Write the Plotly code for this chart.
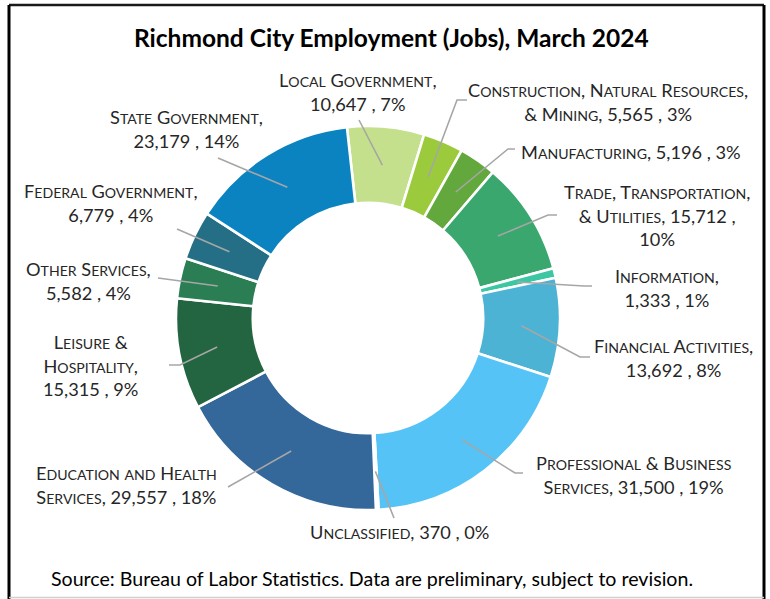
import math
import plotly.graph_objects as go

# ---- data -----------------------------------------------------------------
categories = [
    "Local Government",
    "Construction, Natural Resources,\n& Mining",
    "Manufacturing",
    "Trade, Transportation,\n& Utilities",
    "Information",
    "Financial Activities",
    "Professional & Business\nServices",
    "Unclassified",
    "Education and Health\nServices",
    "Leisure &\nHospitality",
    "Other Services",
    "Federal Government",
    "State Government",
]
jobs = [10647, 5565, 5196, 15712, 1333, 13692, 31500, 370, 29557, 15315, 5582, 6779, 23179]
pct_text = ["7%", "3%", "3%", "10%", "1%", "8%", "19%", "0%", "18%", "9%", "4%", "4%", "14%"]

colors = [
    "#C4E08C", "#9BCB3C", "#62A83C", "#39A76E", "#3DC6A4", "#4DB3D4", "#55C3F6",
    "#FFFFFF", "#34679A", "#236541", "#2B7E53", "#246F86", "#0B83C1",
]

# ---- layout constants (pixels) -------------------------------------------
W, H = 770, 599
CX, CY, R = 368, 318, 192          # donut centre and outer radius
HOLE = 0.6
START_DEG = -6.3                    # start angle of first slice, clockwise from 12 o'clock

FONT = "Lato"
BIG, SMALL = 18.2, 14.1
TXT = "#262626"
LEAD = "#A6A6A6"

# label centre positions, separators, and leader-line anchors (x, y, elbow dx)
label_pos = [
    (358, 92), (608, 102), (631, 152), (657, 215), (667, 288), (673, 358),
    (634, 475), (399, 532), (126, 485), (90, 365), (88, 281), (111, 203), (186, 129),
]
name_sep = [",\n", ", ", ", ", ", ", ",\n", ",\n", ", ", ", ", ", ", ",\n", ",\n", ",\n", ",\n"]
pct_sep = [" , ", " , ", " , ", " ,\n", " , ", " , ", " , ", " , ", " , ", " , ", " , ", " , ", " , "]
lead_end = [
    (359, 120, 0), (467, 100, -10), (515, 149, -7), (557, 215, -9), (592, 286, -8),
    (590, 357, -10), (523, 473, -8), (394, 518, 0), (228, 487, 0), (169, 365, 11),
    (158, 278, 0), (177, 229, 0), (218, 158, 0),
]


def small_caps(s):
    out, run = [], ""
    for ch in s:
        if ch.islower():
            run += ch.upper()
            continue
        if run:
            out.append(f'<span style="font-size:{SMALL}px">{run}</span>')
            run = ""
        out.append(ch)
    if run:
        out.append(f'<span style="font-size:{SMALL}px">{run}</span>')
    return "".join(out)


def label_text(i):
    name = "<br>".join(small_caps(part) for part in categories[i].split("\n"))
    return (name + name_sep[i].replace("\n", "<br>") + f"{jobs[i]:,}"
            + pct_sep[i].replace("\n", "<br>") + pct_text[i])


fig = go.Figure()

# donut
fig.add_trace(go.Pie(
    labels=[c.replace("\n", " ") for c in categories],
    values=jobs,
    sort=False,
    direction="clockwise",
    rotation=START_DEG,
    hole=HOLE,
    textinfo="none",
    marker=dict(colors=colors, line=dict(color="white", width=2.6)),
    domain=dict(x=[(CX - R) / W, (CX + R) / W], y=[(H - CY - R) / H, (H - CY + R) / H]),
    showlegend=False,
    hoverinfo="label+value+percent",
))

shapes = []

# leader lines from slice middles to labels (drawn above the donut)
total = sum(jobs)
cum = 0
r_mid = R * (1 + HOLE) / 2
for i, v in enumerate(jobs):
    mid = math.radians(START_DEG + 360 * (cum + v / 2) / total)
    cum += v
    sx = CX + r_mid * math.sin(mid)
    sy = CY - r_mid * math.cos(mid)
    ex, ey, edx = lead_end[i]
    pts = [(sx, sy)]
    if edx:
        pts.append((ex + edx, ey))
    pts.append((ex, ey))
    path = "M " + " L ".join(f"{px:.2f},{py:.2f}" for px, py in pts)
    shapes.append(dict(type="path", xref="x", yref="y", path=path, layer="above",
                       line=dict(color=LEAD, width=1.6)))

annotations = []
for i in range(len(categories)):
    x, y = label_pos[i]
    annotations.append(dict(
        x=x, y=y, xref="x", yref="y", text=label_text(i), showarrow=False,
        xanchor="center", yanchor="middle", align="center",
        font=dict(family=FONT, size=BIG, color=TXT),
    ))

annotations.append(dict(
    x=391, y=37, xref="x", yref="y", text="<b>Richmond City Employment (Jobs), March 2024</b>",
    showarrow=False, xanchor="center", yanchor="middle",
    font=dict(family=FONT, size=24.5, color="#000000"),
))
annotations.append(dict(
    x=372, y=578, xref="x", yref="y",
    text="Source: Bureau of Labor Statistics. Data are preliminary, subject to revision.",
    showarrow=False, xanchor="center", yanchor="middle",
    font=dict(family=FONT, size=19.6, color="#000000"),
))

# chart frame
shapes += [
    dict(type="line", xref="x", yref="y", x0=9, y0=5, x1=764, y1=5, line=dict(color="#1A1A1A", width=2.5)),
    dict(type="line", xref="x", yref="y", x0=9, y0=5, x1=9, y1=599, line=dict(color="#000000", width=3)),
    dict(type="line", xref="x", yref="y", x0=764, y0=5, x1=764, y1=599, line=dict(color="#000000", width=3)),
    dict(type="line", xref="x", yref="y", x0=9, y0=597.5, x1=764, y1=597.5, line=dict(color="#D0D0D0", width=1.5)),
]

fig.update_layout(
    width=W, height=H,
    margin=dict(l=0, r=0, t=0, b=0),
    paper_bgcolor="white", plot_bgcolor="rgba(0,0,0,0)",
    xaxis=dict(range=[0, W], visible=False, fixedrange=True),
    yaxis=dict(range=[H, 0], visible=False, fixedrange=True),
    annotations=annotations,
    shapes=shapes,
    showlegend=False,
)

fig.write_html("out.html")
